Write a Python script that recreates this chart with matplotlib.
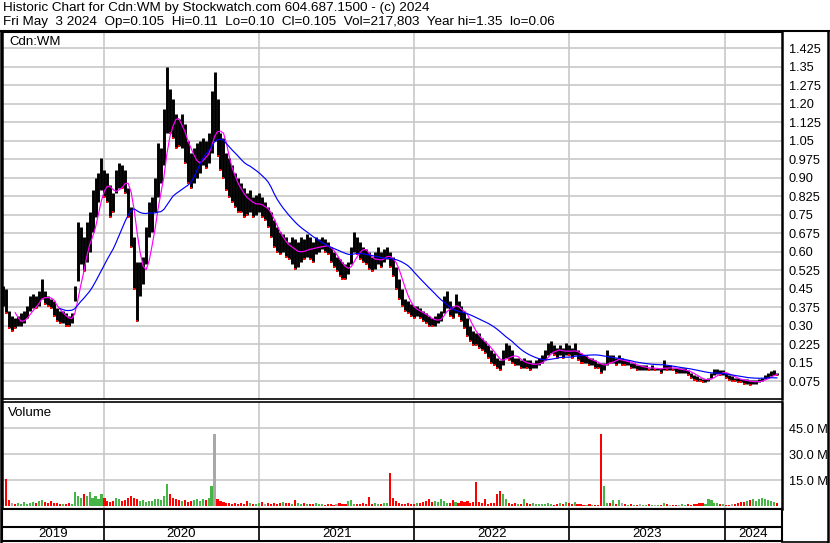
import numpy as np
import pandas as pd
import matplotlib
matplotlib.use("Agg")
import matplotlib.pyplot as plt
import matplotlib.dates as mdates
from matplotlib.lines import Line2D

plt.rcParams['font.family'] = ['Liberation Sans', 'DejaVu Sans']

# weekly high / low (Cdn:WM, May 2019 - May 2024)
hi = [
    0.46, 0.45, 0.36, 0.34, 0.33, 0.34, 0.35, 0.36, 0.38, 0.42,
    0.43, 0.42, 0.44, 0.49, 0.44, 0.42, 0.41, 0.40, 0.37, 0.36,
    0.36, 0.35, 0.34, 0.35, 0.46, 0.72, 0.70, 0.66, 0.72, 0.76,
    0.85, 0.90, 0.92, 0.98, 0.93, 0.92, 0.87, 0.84, 0.93, 0.96,
    0.95, 0.93, 0.86, 0.78, 0.66, 0.56, 0.56, 0.58, 0.70, 0.80,
    0.82, 0.90, 1.04, 1.02, 1.18, 1.35, 1.26, 1.22, 1.16, 1.14,
    1.16, 1.12, 1.05, 1.00, 1.02, 1.04, 1.05, 1.06, 1.05, 1.08,
    1.25, 1.33, 1.22, 1.08, 1.06, 1.00, 0.98, 0.95, 0.92, 0.90,
    0.88, 0.86, 0.84, 0.85, 0.82, 0.83, 0.84, 0.82, 0.80, 0.78,
    0.76, 0.73, 0.70, 0.68, 0.67, 0.66, 0.64, 0.66, 0.65, 0.64,
    0.66, 0.65, 0.67, 0.66, 0.64, 0.66, 0.65, 0.66, 0.65, 0.64,
    0.62, 0.60, 0.58, 0.57, 0.56, 0.55, 0.56, 0.62, 0.68, 0.66,
    0.64, 0.62, 0.61, 0.60, 0.58, 0.60, 0.62, 0.60, 0.61, 0.62,
    0.60, 0.58, 0.54, 0.49, 0.45, 0.41, 0.40, 0.39, 0.38, 0.38,
    0.37, 0.36, 0.35, 0.34, 0.33, 0.34, 0.35, 0.36, 0.42, 0.44,
    0.40, 0.38, 0.43, 0.40, 0.38, 0.36, 0.33, 0.30, 0.28, 0.27,
    0.27, 0.25, 0.24, 0.22, 0.20, 0.19, 0.17, 0.16, 0.20, 0.23,
    0.22, 0.20, 0.17, 0.17, 0.16, 0.17, 0.16, 0.16, 0.15, 0.16,
    0.17, 0.18, 0.20, 0.23, 0.24, 0.22, 0.21, 0.22, 0.21, 0.23,
    0.22, 0.21, 0.23, 0.20, 0.19, 0.18, 0.18, 0.17, 0.17, 0.16,
    0.15, 0.15, 0.15, 0.20, 0.18, 0.18, 0.17, 0.18, 0.17, 0.16,
    0.16, 0.15, 0.15, 0.14, 0.14, 0.14, 0.14, 0.13, 0.14, 0.13,
    0.13, 0.13, 0.16, 0.14, 0.14, 0.13, 0.13, 0.13, 0.13, 0.13,
    0.12, 0.11, 0.10, 0.095, 0.09, 0.085, 0.085, 0.09, 0.11, 0.125,
    0.125, 0.12, 0.12, 0.11, 0.10, 0.095, 0.09, 0.09, 0.085, 0.085,
    0.085, 0.08, 0.08, 0.08, 0.085, 0.09, 0.10, 0.11, 0.115, 0.12, 0.11,
]
lo = [
    0.38, 0.35, 0.29, 0.28, 0.29, 0.30, 0.30, 0.31, 0.33, 0.36,
    0.37, 0.37, 0.38, 0.41, 0.39, 0.38, 0.37, 0.34, 0.32, 0.31,
    0.31, 0.30, 0.30, 0.31, 0.40, 0.48, 0.55, 0.52, 0.56, 0.60,
    0.68, 0.74, 0.80, 0.85, 0.82, 0.80, 0.74, 0.76, 0.84, 0.86,
    0.86, 0.84, 0.74, 0.62, 0.45, 0.32, 0.42, 0.47, 0.55, 0.66,
    0.68, 0.76, 0.82, 0.88, 0.95, 1.08, 1.08, 1.06, 1.02, 1.03,
    1.02, 0.96, 0.88, 0.86, 0.88, 0.90, 0.92, 0.95, 0.94, 0.96,
    1.00, 1.05, 0.99, 0.93, 0.90, 0.85, 0.82, 0.80, 0.78, 0.76,
    0.76, 0.74, 0.75, 0.76, 0.74, 0.75, 0.76, 0.74, 0.73, 0.70,
    0.66, 0.62, 0.60, 0.59, 0.60, 0.58, 0.57, 0.55, 0.53, 0.54,
    0.56, 0.57, 0.58, 0.57, 0.56, 0.59, 0.60, 0.61, 0.60, 0.59,
    0.56, 0.54, 0.52, 0.50, 0.49, 0.49, 0.51, 0.55, 0.60, 0.59,
    0.57, 0.56, 0.55, 0.53, 0.52, 0.53, 0.55, 0.54, 0.56, 0.57,
    0.54, 0.50, 0.45, 0.41, 0.38, 0.36, 0.35, 0.34, 0.33, 0.34,
    0.33, 0.32, 0.31, 0.30, 0.30, 0.30, 0.31, 0.32, 0.35, 0.37,
    0.34, 0.33, 0.35, 0.34, 0.32, 0.29, 0.26, 0.24, 0.22, 0.22,
    0.21, 0.20, 0.19, 0.17, 0.15, 0.14, 0.13, 0.12, 0.14, 0.17,
    0.16, 0.15, 0.14, 0.14, 0.13, 0.13, 0.13, 0.12, 0.13, 0.13,
    0.14, 0.15, 0.16, 0.18, 0.19, 0.18, 0.17, 0.18, 0.17, 0.18,
    0.18, 0.17, 0.18, 0.16, 0.15, 0.15, 0.15, 0.14, 0.14, 0.13,
    0.13, 0.11, 0.12, 0.14, 0.15, 0.15, 0.14, 0.15, 0.14, 0.14,
    0.14, 0.13, 0.13, 0.12, 0.12, 0.12, 0.12, 0.12, 0.12, 0.12,
    0.12, 0.11, 0.12, 0.12, 0.12, 0.12, 0.11, 0.11, 0.11, 0.11,
    0.10, 0.09, 0.08, 0.075, 0.075, 0.07, 0.07, 0.075, 0.09, 0.10,
    0.105, 0.10, 0.10, 0.09, 0.08, 0.075, 0.075, 0.07, 0.07, 0.065,
    0.065, 0.06, 0.065, 0.065, 0.07, 0.075, 0.085, 0.09, 0.095, 0.10, 0.10,
]
# weekly volume, millions of shares
vol = [
    4.4, 16, 3.5, 2, 1.5, 2, 1.5, 2.5, 1.5, 2,
    2.5, 2, 3, 3.5, 2.5, 2, 3, 2, 2, 1.5,
    1.5, 1.5, 2, 1.5, 8.5, 6, 5, 7, 6, 8,
    5, 6, 4, 7, 5, 3, 2.5, 3, 5, 4,
    3, 3.5, 5, 6, 5, 4, 3, 3.5, 2.5, 3,
    3, 4, 4.5, 3.5, 6, 13, 7, 5, 4, 3.5,
    3, 3.5, 2.5, 3, 3.5, 4, 3, 4, 3.5, 5,
    12, 42, 4, 3, 2.5, 2, 2, 1.5, 2, 1.5,
    2, 1.5, 3, 2, 1.5, 1.5, 2, 2.5, 1.5, 2,
    1.5, 2, 1.5, 2, 2.5, 2, 2, 1.5, 3.5, 2,
    1.5, 2, 1.5, 1.5, 1.5, 2, 1.5, 1.5, 1, 1.5,
    1.5, 1, 1.5, 2, 1.5, 1.5, 3, 3.5, 1.5, 1.5,
    1.5, 2, 1.5, 5.5, 1.5, 2, 1.5, 1.5, 2, 2,
    19.5, 5, 3, 2, 1.5, 1.5, 2, 1.5, 1.5, 2,
    2, 2.5, 3, 4, 2.5, 3, 2.5, 4.5, 3, 2,
    2, 3.5, 2.5, 2, 3, 2.5, 3, 2, 2.5, 14,
    2.5, 2, 4.5, 1.5, 2, 2, 7, 9, 7, 4,
    2, 1.5, 2, 1.5, 1.5, 4, 2, 1.5, 2, 1.5,
    1.5, 1.5, 1.5, 2, 1.5, 1, 1.5, 2, 1.5, 2.5,
    2, 1.5, 2.5, 1.5, 1.5, 1, 1, 1.5, 1, 1,
    1, 42, 11.5, 2, 2, 3.5, 1.5, 3.5, 2, 1.5,
    1, 1.5, 1, 1, 1.5, 1, 1, 1.5, 1, 1,
    1, 1, 2, 1.5, 1, 1, 1, 1, 1.5, 1,
    1.5, 1, 1.5, 1.5, 2, 2, 1.5, 4, 3.5, 2,
    2, 1.5, 1.5, 1, 1, 1.5, 1.5, 2, 2.5, 2.5,
    3, 3.5, 4.5, 3, 4, 5, 4.5, 3.5, 3, 2.5, 2,
]
# weeks where the close was unchanged (grey volume bars)
flat_weeks = [3, 71, 88, 112, 208, 214, 219, 224, 227, 245]

price_ticks = [1.425, 1.35, 1.275, 1.20, 1.125, 1.05, 0.975, 0.90, 0.825, 0.75,
               0.675, 0.60, 0.525, 0.45, 0.375, 0.30, 0.225, 0.15, 0.075]
price_labels = ["1.425", "1.35", "1.275", "1.20", "1.125", "1.05", "0.975", "0.90",
                "0.825", "0.75", "0.675", "0.60", "0.525", "0.45", "0.375", "0.30",
                "0.225", "0.15", "0.075"]
vol_ticks = [15, 30, 45]
vol_labels = ["15.0 M", "30.0 M", "45.0 M"]
years = [2019, 2020, 2021, 2022, 2023, 2024]

title1 = "Historic Chart for Cdn:WM by Stockwatch.com 604.687.1500 - (c) 2024"
title2 = ("Fri May  3 2024  Op=0.105  Hi=0.11  Lo=0.10  Cl=0.105  "
          "Vol=217,803  Year hi=1.35  lo=0.06")

df = pd.DataFrame({"hi": hi, "lo": lo, "vol": vol})
df["date"] = pd.date_range("2019-05-10", periods=len(df), freq="7D")
df["mid"] = (df["hi"] + df["lo"]) / 2
df["ma_short"] = df["mid"].rolling(5).mean()
df["ma_long"] = df["mid"].rolling(20).mean()
chg = df["mid"].diff().fillna(0)
colors = np.where(chg >= 0, "#46b446", "#ff0000").astype(object)
colors[flat_weeks] = "#a8a8a8"
x = mdates.date2num(df["date"])

W, H = 830, 543
def fx(px):
    return px / W
def fy(py):
    return 1 - py / H

fig = plt.figure(figsize=(8.3, 5.43), dpi=100)
fig.patch.set_facecolor("white")

xmin = mdates.date2num(pd.Timestamp("2019-05-07"))
xmax = mdates.date2num(pd.Timestamp("2024-05-15"))
year_x = [mdates.date2num(pd.Timestamp(f"{y}-01-01")) for y in years[1:]]
grid_c = "#c8c8c8"

# price panel
ax_p = fig.add_axes([fx(2), fy(399), fx(782) - fx(2), (399 - 32) / H])
for yv in price_ticks:
    ax_p.axhline(yv, color=grid_c, lw=1.2, zorder=0)
for xv in year_x:
    ax_p.axvline(xv, color=grid_c, lw=1.2, zorder=0)
ax_p.vlines(x, df["lo"], df["hi"], color="black", lw=2.1, zorder=2)
down = chg < 0
ax_p.plot(x[down], df["lo"][down], "s", color="red", ms=1.8, mew=0, zorder=3)
ax_p.plot(x, df["ma_short"], color="#ff00ff", lw=0.85, zorder=4)
ax_p.plot(x, df["ma_long"], color="#0000ff", lw=0.85, zorder=4)
ax_p.set_xlim(xmin, xmax)
ax_p.set_ylim(0.003, 1.491)
ax_p.set_xticks([])
ax_p.yaxis.tick_right()
ax_p.set_yticks(price_ticks)
ax_p.set_yticklabels(price_labels, fontsize=9.2)
ax_p.tick_params(axis="y", length=0, pad=5)
for s in ["left", "right"]:
    ax_p.spines[s].set_linewidth(1.8)
ax_p.spines["top"].set_linewidth(1.5)
ax_p.spines["bottom"].set_linewidth(1.2)
ax_p.text(fx(9), fy(42), "Cdn:WM", transform=fig.transFigure,
          fontsize=9.5, va="center", ha="left")

# volume panel
ax_v = fig.add_axes([fx(2), fy(509), fx(782) - fx(2), (509 - 402) / H])
for yv in vol_ticks:
    ax_v.axhline(yv, color=grid_c, lw=1.2, zorder=0)
for xv in year_x:
    ax_v.axvline(xv, color=grid_c, lw=1.2, zorder=0)
ax_v.bar(x, df["vol"], width=5, color=colors, zorder=2)
ax_v.set_xlim(xmin, xmax)
ax_v.set_ylim(-1.56, 60.2)
ax_v.set_xticks([])
ax_v.yaxis.tick_right()
ax_v.set_yticks(vol_ticks)
ax_v.set_yticklabels(vol_labels, fontsize=9.2)
ax_v.tick_params(axis="y", length=0, pad=5)
for s in ["left", "right"]:
    ax_v.spines[s].set_linewidth(1.8)
ax_v.spines["top"].set_linewidth(1.2)
ax_v.spines["bottom"].set_linewidth(1.5)
ax_v.text(fx(8), fy(413), "Volume", transform=fig.transFigure,
          fontsize=9.5, va="center", ha="left")

# date band
ax_d = fig.add_axes([fx(2), fy(541), fx(782) - fx(2), (541 - 509) / H])
ax_d.set_xlim(xmin, xmax)
ax_d.set_ylim(0, 1)
ax_d.set_xticks([])
ax_d.set_yticks([])
for s in ax_d.spines.values():
    s.set_linewidth(1.5)
ax_d.axhline((541 - 527) / 32, color="black", lw=1.5)
for xv in year_x:
    ax_d.axvline(xv, color="black", lw=1.2)
edges = [xmin] + year_x + [xmax]
for i, y in enumerate(years):
    ax_d.text((edges[i] + edges[i + 1]) / 2, (541 - 534) / 32, str(y),
              fontsize=9.5, ha="center", va="center")

# header and outer frame
fig.text(fx(3), fy(8), title1, fontsize=9.7, va="center", ha="left")
fig.text(fx(3), fy(22), title2, fontsize=9.7, va="center", ha="left")
fig.add_artist(Line2D([0, 1], [fy(31), fy(31)], color="black", lw=1.5))
fig.add_artist(Line2D([fx(1), fx(1)], [fy(31), fy(542)], color="black", lw=1.8))
fig.add_artist(Line2D([fx(828), fx(828)], [fy(31), fy(542)], color="black", lw=1.8))
fig.add_artist(Line2D([fx(782), fx(828)], [fy(541.5), fy(541.5)], color="black", lw=1.2))

fig.savefig("out.png", dpi=100)
